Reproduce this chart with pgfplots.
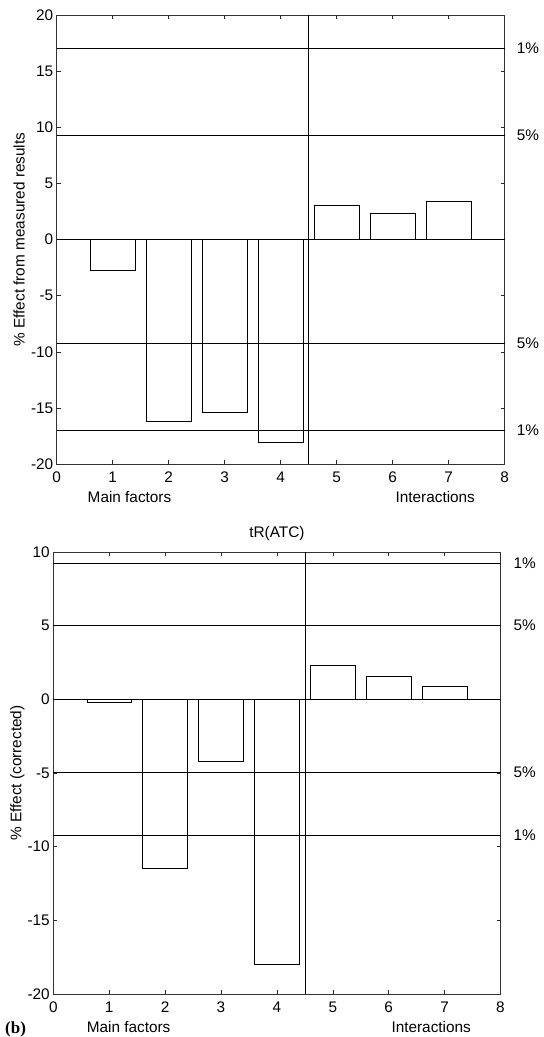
\documentclass[border=0pt]{standalone}
\usepackage{fontspec}
\setmainfont{Liberation Sans}
\newfontfamily\serifb{Liberation Serif}
\usepackage{pgfplots}
\pgfplotsset{compat=1.18}
\pgfplotsset{
  every axis/.append style={
    font=\fontsize{15.4}{18}\selectfont,
    scale only axis, clip=false,
    xmin=0, xmax=8,
    xtick={0,1,2,3,4,5,6,7,8},
    xticklabels={0,1,2,3,4,5,6,7,8},
    tick align=inside, major tick length=4bp,
    tick style={black!85, line width=0.5pt},
    axis line style={black!80, line width=0.6pt},
    xticklabel style={yshift=-4bp},
  },
  hl/.style={black, line width=0.6pt, no marks},
  bars/.style={ybar, bar width=0.8, bar shift=0pt, fill=none, draw=black, line width=0.6pt},
}
\begin{document}
\begin{tikzpicture}
\path[use as bounding box] (0,0) rectangle (544bp,-1037bp);
% ---------- top panel ----------
\begin{axis}[
  at={(56.7bp,-464bp)}, anchor=south west,
  width=448bp, height=448.7bp,
  ymin=-20, ymax=20,
  ytick={-20,-15,-10,-5,0,5,10,15,20},
  yticklabels={-20,-15,-10,-5,0,5,10,15,20},
]
\addplot[bars] coordinates {(1,-2.73) (2,-16.15) (3,-15.4) (4,-18.1) (5,3.05) (6,2.34) (7,3.44)};
\addplot[hl] coordinates {(0,17.05) (8,17.05)};
\addplot[hl] coordinates {(0,9.28) (8,9.28)};
\addplot[hl] coordinates {(0,0) (8,0)};
\addplot[hl] coordinates {(0,-9.26) (8,-9.26)};
\addplot[hl] coordinates {(0,-17.0) (8,-17.0)};
\addplot[hl] coordinates {(4.5,-20) (4.5,20)};
\node[anchor=west, inner sep=0] at ([xshift=12bp]axis cs:8,17.05) {1\%};
\node[anchor=west, inner sep=0] at ([xshift=12bp]axis cs:8,9.28) {5\%};
\node[anchor=west, inner sep=0] at ([xshift=12bp]axis cs:8,-9.26) {5\%};
\node[anchor=west, inner sep=0] at ([xshift=12bp]axis cs:8,-17.0) {1\%};
\node[anchor=base, inner sep=0] at ([yshift=-38.7bp]rel axis cs:0.1625,0) {Main factors};
\node[anchor=base, inner sep=0] at ([yshift=-38.7bp]rel axis cs:0.845,0) {Interactions};
\node[rotate=90, anchor=base, inner sep=0] at ([xshift=-32bp]rel axis cs:0,0.5) {\% Effect from measured results};
\end{axis}
% ---------- bottom panel ----------
\begin{axis}[
  at={(53.3bp,-994bp)}, anchor=south west,
  width=447.2bp, height=442bp,
  ymin=-20, ymax=10,
  ytick={-20,-15,-10,-5,0,5,10},
  yticklabels={-20,-15,-10,-5,0,5,10},
]
\addplot[bars] coordinates {(1,-0.23) (2,-11.45) (3,-4.2) (4,-18.0) (5,2.32) (6,1.55) (7,0.88)};
\addplot[hl] coordinates {(0,9.25) (8,9.25)};
\addplot[hl] coordinates {(0,5.05) (8,5.05)};
\addplot[hl] coordinates {(0,0) (8,0)};
\addplot[hl] coordinates {(0,-4.98) (8,-4.98)};
\addplot[hl] coordinates {(0,-9.2) (8,-9.2)};
\addplot[hl] coordinates {(4.5,-20) (4.5,10)};
\node[anchor=west, inner sep=0] at ([xshift=13bp]axis cs:8,9.25) {1\%};
\node[anchor=west, inner sep=0] at ([xshift=13bp]axis cs:8,5.05) {5\%};
\node[anchor=west, inner sep=0] at ([xshift=13bp]axis cs:8,-4.98) {5\%};
\node[anchor=west, inner sep=0] at ([xshift=13bp]axis cs:8,-9.2) {1\%};
\node[anchor=base, inner sep=0] at ([yshift=15bp]rel axis cs:0.5,1) {tR(ATC)};
\node[anchor=base, inner sep=0] at ([yshift=-38.7bp]rel axis cs:0.1685,0) {Main factors};
\node[anchor=base, inner sep=0] at ([yshift=-38.7bp]rel axis cs:0.845,0) {Interactions};
\node[rotate=90, anchor=base, inner sep=0] at ([xshift=-32bp]rel axis cs:0,0.5) {\% Effect (corrected)};
\end{axis}
\node[anchor=base west, inner sep=0, font=\serifb\bfseries\fontsize{17}{20}\selectfont] at (5bp,-1033bp) {(b)};
\end{tikzpicture}
\end{document}
